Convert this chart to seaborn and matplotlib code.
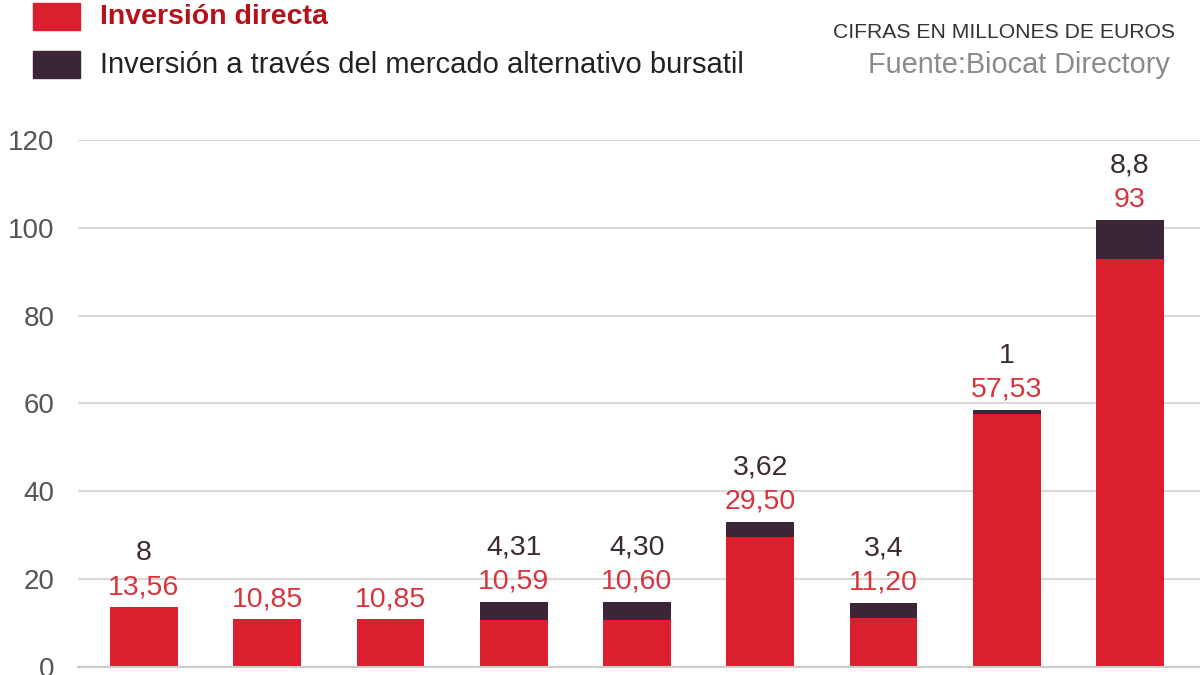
import matplotlib
matplotlib.use("Agg")
import matplotlib.pyplot as plt
from matplotlib.patches import Rectangle
import seaborn as sns
import pandas as pd

# values (millions of euros)
categories = ["1", "2", "3", "4", "5", "6", "7", "8", "9"]
directa = [13.56, 10.85, 10.85, 10.59, 10.60, 29.50, 11.20, 57.53, 93]
mercado = [0, 0, 0, 4.31, 4.30, 3.62, 3.4, 1, 8.8]
directa_labels = ["13,56", "10,85", "10,85", "10,59", "10,60", "29,50", "11,20", "57,53", "93"]
mercado_labels = ["8", "", "", "4,31", "4,30", "3,62", "3,4", "1", "8,8"]
yticks = [0, 20, 40, 60, 80, 100, 120]

RED = "#dc1f2e"
DARK = "#3c2536"

df = pd.DataFrame({"cat": categories, "directa": directa, "mercado": mercado})
df["total"] = df["directa"] + df["mercado"]

sns.set_style("white")
plt.rcParams["font.family"] = ["Liberation Sans", "DejaVu Sans"]

fig = plt.figure(figsize=(12, 6.75), dpi=100)
ax = fig.add_axes([0.065, 0.0119, 0.935, 0.7807])

sns.barplot(data=df, x="cat", y="total", color=DARK, width=0.55, saturation=1,
            linewidth=0, edgecolor="none", ax=ax)
sns.barplot(data=df, x="cat", y="directa", color=RED, width=0.55, saturation=1,
            linewidth=0, edgecolor="none", ax=ax)

ax.set_ylim(0, 120)
ax.set_xlim(-0.535, 8.568)
ax.set_yticks(yticks)
ax.set_yticklabels([str(t) for t in yticks], fontsize=20, color="#555555")
ax.tick_params(axis="y", length=0, pad=17)
ax.yaxis.grid(True, color="#d9d9d9", linewidth=1.5)
ax.set_axisbelow(True)
for s in ["left", "right", "top"]:
    ax.spines[s].set_visible(False)
ax.spines["bottom"].set_color("#cccccc")
ax.spines["bottom"].set_linewidth(1.5)

# category separators below the baseline
ax.set_xticks([i + 0.5 for i in range(-1, 9)], minor=True)
ax.tick_params(axis="x", which="minor", length=12, color="#cccccc", width=1.5)
ax.tick_params(axis="x", which="major", length=0, labelbottom=False)
ax.set_xlabel("")
ax.set_ylabel("")

for i, row in df.iterrows():
    ax.annotate(directa_labels[i], (i, row["total"]), xytext=(0, 14.5),
                textcoords="offset points", ha="center", va="center",
                fontsize=20.5, color="#d8343c")
    if mercado_labels[i]:
        ax.annotate(mercado_labels[i], (i, row["total"]), xytext=(0, 39),
                    textcoords="offset points", ha="center", va="center",
                    fontsize=20.5, color="#3a2b36")

# legend drawn at the top
W, H = 1200, 675
fig.patches.append(Rectangle((33 / W, 1 - 30 / H), 47 / W, 27 / H, transform=fig.transFigure,
                             color=RED, figure=fig))
fig.patches.append(Rectangle((33 / W, 1 - 78 / H), 47 / W, 27 / H, transform=fig.transFigure,
                             color=DARK, figure=fig))
fig.text(100 / W, 1 - 17 / H, "Inversión directa", fontsize=20.5, fontweight="bold",
         color="#b5121b", va="center", ha="left")
fig.text(100 / W, 1 - 65 / H, "Inversión a través del mercado alternativo bursatil",
         fontsize=21, color="#222222", va="center", ha="left")
fig.text(1175 / W, 1 - 33 / H, "CIFRAS EN MILLONES DE EUROS", fontsize=15.2,
         color="#333333", va="center", ha="right")
fig.text(1170 / W, 1 - 65 / H, "Fuente:Biocat Directory", fontsize=20.8,
         color="#8a8a8a", va="center", ha="right")

fig.savefig("out.png", dpi=100)
